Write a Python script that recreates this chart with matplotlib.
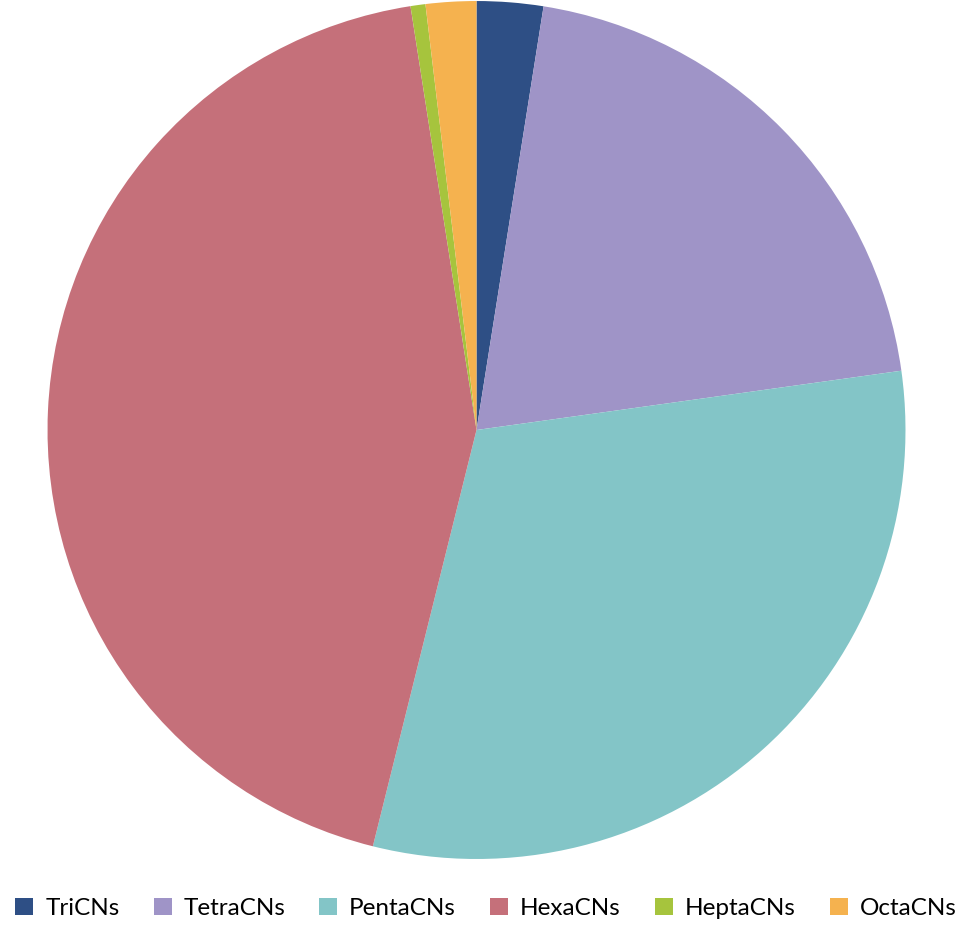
import matplotlib
matplotlib.use("Agg")
import matplotlib.pyplot as plt
from matplotlib.patches import Patch

plt.rcParams['font.family'] = ['Lato', 'DejaVu Sans']

categories = ["TriCNs", "TetraCNs", "PentaCNs", "HexaCNs", "HeptaCNs", "OctaCNs"]
values = [2.5, 20.3, 31.1, 43.67, 0.56, 1.9]
colors = ["#2E4F85", "#9F94C7", "#83C5C7", "#C5707A", "#A6C43D", "#F5B24F"]

fig = plt.figure(figsize=(9.64, 9.35), dpi=100)
ax = fig.add_axes([0.0493, 0.0813, 0.890, 0.9176])
ax.pie(values, colors=colors, startangle=90, counterclock=False, radius=1.0,
       wedgeprops=dict(linewidth=0))
ax.set_xlim(-1, 1)
ax.set_ylim(-1, 1)
ax.set_aspect('auto')
ax.axis('off')

handles = [Patch(facecolor=c, edgecolor='none') for c in colors]
fig.legend(handles, categories, loc='center', bbox_to_anchor=(0.504, 1 - 908.5 / 935),
           ncol=6, frameon=False, fontsize=17.5, handlelength=0.74, handleheight=0.74,
           handletextpad=0.49, columnspacing=1.4, borderaxespad=0, borderpad=0)

fig.savefig("out.png", dpi=100)
